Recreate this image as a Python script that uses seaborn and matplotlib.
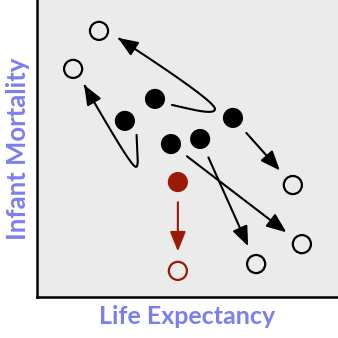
import numpy as np
import matplotlib.pyplot as plt
import seaborn as sns
from matplotlib.patches import FancyArrowPatch
from matplotlib.path import Path

# titik awal (tahun lama) dan titik akhir (tahun baru)
start_x = [2.92, 3.92, 6.51, 4.45, 5.42, 4.68]
start_y = [5.93, 6.67, 6.03, 5.15, 5.32, 3.87]
end_x = [1.20, 2.06, 8.50, 8.80, 7.28, 4.68]
end_y = [7.68, 8.96, 3.77, 1.78, 1.11, 0.88]
highlight = [False, False, False, False, False, True]

# bentuk panah melengkung: dua segmen bezier kubik
# (offset piksel, x ke kanan, y ke bawah; semua relatif ke titik awal,
#  kecuali titik terakhir yang relatif ke titik akhir)
curve_offset = {
    0: [(11.7, 14), (12, 29), (14.5, 46), (11, 46),
        (7, 46), (-13, 12), (11, 16)],
    1: [(17, 6), (35, 10), (60, 17), (60, 10),
        (60, 4), (20, -24), (19, 7)],
}

BG = '#ebebeb'
RED = '#9a1a05'
LABEL = '#7a7ff0'

sns.set_theme(style='white')
plt.rcParams['font.family'] = ['Lato', 'DejaVu Sans']

fig = plt.figure(figsize=(3.38, 3.38), dpi=100)
ax = fig.add_axes([37 / 338, 41 / 338, 301 / 338, 297 / 338])
ax.set_facecolor(BG)
ax.set_xlim(0, 10)
ax.set_ylim(0, 10)

warna = [RED if h else 'black' for h in highlight]

sns.scatterplot(x=start_x, y=start_y, ax=ax, s=210, c=warna,
                edgecolor='none', zorder=3, legend=False)
sns.scatterplot(x=end_x, y=end_y, ax=ax, s=170, facecolor='none',
                edgecolor=warna, linewidth=1.6, zorder=3, legend=False)

arrow_style = '-|>,head_length=1.2,head_width=0.48'


def bezier_path(a, b, offs):
    # rangkaian bezier kubik di koordinat layar
    pa = ax.transData.transform(a)
    pb = ax.transData.transform(b)
    o = np.array(offs, dtype=float) * np.array([1, -1]) * fig.dpi / 100
    pts = pa + o
    pts[-1] = pb + o[-1]
    t = np.linspace(0, 1, 150)[:, None]
    parts = []
    for k in range(0, len(pts) - 1, 3):
        p0, p1, p2, p3 = pts[k:k + 4]
        parts.append((1 - t) ** 3 * p0 + 3 * (1 - t) ** 2 * t * p1
                     + 3 * (1 - t) * t ** 2 * p2 + t ** 3 * p3)
    curve = np.vstack(parts)
    return ax.transData.inverted().transform(curve)


for i in range(len(start_x)):
    col = RED if highlight[i] else 'black'
    if i in curve_offset:
        pts = bezier_path((start_x[i], start_y[i]), (end_x[i], end_y[i]),
                          curve_offset[i])
        patch = FancyArrowPatch(path=Path(pts), arrowstyle=arrow_style,
                                mutation_scale=10, color=col, lw=1.5,
                                zorder=2)
        ax.add_patch(patch)
    else:
        ax.annotate('', xy=(end_x[i], end_y[i]),
                    xytext=(start_x[i], start_y[i]),
                    arrowprops=dict(arrowstyle=arrow_style, color=col,
                                    lw=1.5, shrinkA=14.5, shrinkB=14,
                                    mutation_scale=10),
                    zorder=2)

ax.set_xticks([])
ax.set_yticks([])
for side in ['top', 'right']:
    ax.spines[side].set_visible(False)
for side in ['left', 'bottom']:
    ax.spines[side].set_color('black')
    ax.spines[side].set_linewidth(1.8)

ax.set_xlabel('Life Expectancy', fontsize=18, fontweight='bold',
              color=LABEL, labelpad=6)
ax.set_ylabel('Infant Mortality', fontsize=18.5, fontweight='bold',
              color=LABEL, labelpad=5)

fig.savefig('out.png', dpi=100, facecolor='white')
